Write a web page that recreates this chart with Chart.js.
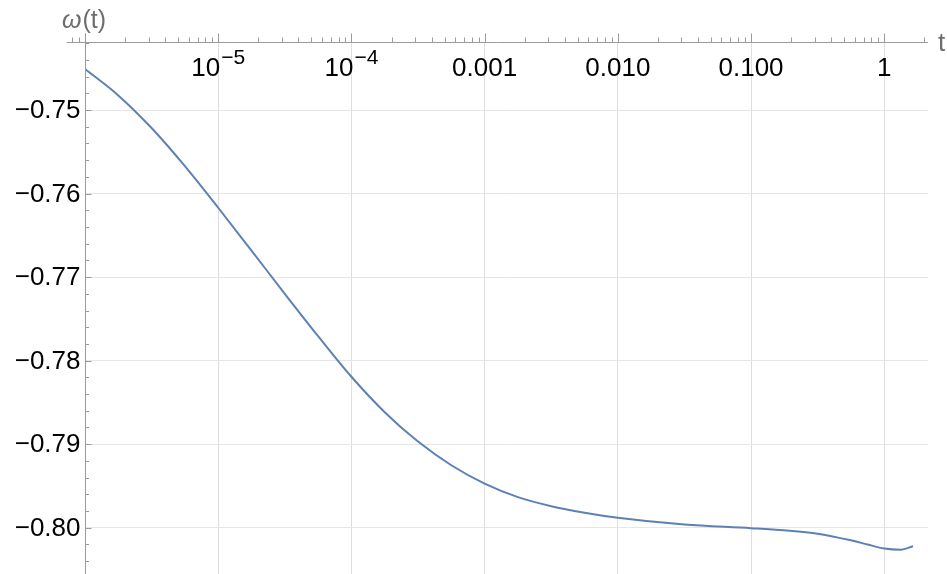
<!DOCTYPE html>
<html>
<head>
<meta charset="utf-8">
<script src="https://cdn.jsdelivr.net/npm/chart.js@4/dist/chart.umd.min.js"></script>
<style>
  html, body { margin: 0; padding: 0; background: #ffffff; }
  #wrap { width: 947px; height: 574px; }
</style>
</head>
<body>
<div id="wrap"><canvas id="c" width="947" height="574"></canvas></div>
<script>
// ---- data ----
const tValues = [1.0e-6, 1.778e-6, 3.162e-6, 5.623e-6, 1.0e-5, 1.778e-5, 3.162e-5, 5.623e-5, 1.0e-4,
                 1.778e-4, 3.162e-4, 5.623e-4, 1.0e-3, 1.778e-3, 3.162e-3, 5.623e-3, 1.0e-2, 3.162e-2,
                 0.1, 0.1778, 0.3162, 0.5623, 0.75, 1.0, 1.334, 1.645];
const omegaValues = [-0.74509, -0.74825, -0.75216, -0.75672, -0.76170, -0.76683, -0.77200, -0.77707, -0.78193,
                     -0.78617, -0.78969, -0.79252, -0.79472, -0.79634, -0.79742, -0.79820, -0.79881, -0.79962,
                     -0.80005, -0.80031, -0.80071, -0.80151, -0.80201, -0.80249, -0.80263, -0.80222];

const xTickValues = [1e-5, 1e-4, 1e-3, 1e-2, 1e-1, 1];
const xTickBase   = ['10', '10', '0.001', '0.010', '0.100', '1'];
const xTickExp    = ['\u22125', '\u22124', '', '', '', ''];
const yTickValues = [-0.75, -0.76, -0.77, -0.78, -0.79, -0.80];
const yTickLabels = ['\u22120.75', '\u22120.76', '\u22120.77', '\u22120.78', '\u22120.79', '\u22120.80'];
const xAxisTitle = 't';
const yAxisTitle = ['\u03C9', '(t)'];

const X_MIN = 1e-6, X_MAX = 2.13;
const Y_MIN = -0.80554, Y_MAX = -0.74186;

const FONT = '"Liberation Sans", Arial, Helvetica, sans-serif';
const AXIS_COLOR = '#9a9a9a';

const axesPlugin = {
  id: 'mmaAxes',
  afterDatasetsDraw(chart) {
    const { ctx, chartArea: ca, scales: { x, y } } = chart;
    ctx.save();
    const ax = Math.round(x.getPixelForValue(X_MIN)) + 0.5; // y-axis position
    const ay = Math.round(ca.top) + 0.5;                    // x-axis position
    ctx.strokeStyle = AXIS_COLOR;
    ctx.lineWidth = 1;

    // x axis line
    const xStart = x.getPixelForValue(7.3e-7);
    ctx.beginPath();
    ctx.moveTo(xStart, ay);
    ctx.lineTo(ca.right, ay);
    ctx.stroke();

    // x ticks (upward)
    ctx.beginPath();
    for (let d = -7; d <= 0; d++) {
      for (let m = 1; m <= 9; m++) {
        const v = m * Math.pow(10, d);
        if (v < 7.5e-7 || v > X_MAX) continue;
        const px = Math.round(x.getPixelForValue(v)) + 0.5;
        const len = (m === 1) ? 9 : 5;
        ctx.moveTo(px, ay);
        ctx.lineTo(px, ay - len);
      }
    }
    ctx.stroke();

    // y axis line
    ctx.beginPath();
    ctx.moveTo(ax, ay - 9);
    ctx.lineTo(ax, ca.bottom);
    ctx.stroke();

    // y ticks (to the right)
    ctx.beginPath();
    for (let k = 0; k <= 40; k++) {
      const v = -0.740 - k * 0.002;
      if (v > Y_MAX || v < Y_MIN) continue;
      const py = Math.round(y.getPixelForValue(v)) + 0.5;
      const major = Math.abs(Math.round(v * 100) - v * 100) < 1e-6;
      ctx.moveTo(ax, py);
      ctx.lineTo(ax + (major ? 6 : 3.5), py);
    }
    ctx.stroke();

    // x tick labels
    ctx.fillStyle = '#000000';
    ctx.textBaseline = 'alphabetic';
    xTickValues.forEach((v, i) => {
      const px = x.getPixelForValue(v);
      const base = xTickBase[i], exp = xTickExp[i];
      ctx.font = '26px ' + FONT;
      const wb = ctx.measureText(base).width;
      let we = 0;
      if (exp) {
        ctx.font = '21px ' + FONT;
        we = ctx.measureText(exp).width + 1;
      }
      const left = px - (wb + we) / 2;
      ctx.font = '26px ' + FONT;
      ctx.textAlign = 'left';
      ctx.fillText(base, left, 76);
      if (exp) {
        ctx.font = '21px ' + FONT;
        ctx.fillText(exp, left + wb + 1, 64);
      }
    });

    // y tick labels
    ctx.font = '26px ' + FONT;
    ctx.textAlign = 'right';
    ctx.textBaseline = 'middle';
    yTickValues.forEach((v, i) => {
      ctx.fillText(yTickLabels[i], ax - 5, y.getPixelForValue(v) + 1);
    });

    // axis titles
    ctx.fillStyle = '#6e6e6e';
    ctx.textBaseline = 'alphabetic';
    ctx.textAlign = 'left';
    ctx.font = 'italic 25px ' + FONT;
    const wOmega = ctx.measureText(yAxisTitle[0]).width;
    ctx.fillText(yAxisTitle[0], 62, 28);
    ctx.font = '25px ' + FONT;
    ctx.fillText(yAxisTitle[1], 62 + wOmega + 1, 28);
    ctx.font = '26px ' + FONT;
    ctx.fillText(xAxisTitle, 938, 51);
    ctx.restore();
  }
};

new Chart(document.getElementById('c'), {
  type: 'line',
  data: {
    datasets: [{
      data: tValues.map((t, i) => ({ x: t, y: omegaValues[i] })),
      borderColor: '#5E81B5',
      borderWidth: 2,
      pointRadius: 0,
      fill: false,
      cubicInterpolationMode: 'monotone'
    }]
  },
  options: {
    responsive: false,
    animation: false,
    events: [],
    layout: { padding: { left: 85, top: 42, right: 19, bottom: 0 } },
    plugins: { legend: { display: false }, tooltip: { enabled: false }, title: { display: false } },
    scales: {
      x: {
        type: 'logarithmic',
        position: 'top',
        min: X_MIN, max: X_MAX,
        afterBuildTicks: (s) => { s.ticks = xTickValues.map(v => ({ value: v })); },
        grid: { color: '#dedede', lineWidth: 1, drawTicks: false },
        border: { display: false },
        ticks: { display: false }
      },
      y: {
        type: 'linear',
        min: Y_MIN, max: Y_MAX,
        afterBuildTicks: (s) => { s.ticks = yTickValues.map(v => ({ value: v })); },
        grid: { color: '#e6e6e6', lineWidth: 1, drawTicks: false },
        border: { display: false },
        ticks: { display: false }
      }
    }
  },
  plugins: [axesPlugin]
});
</script>
</body>
</html>
